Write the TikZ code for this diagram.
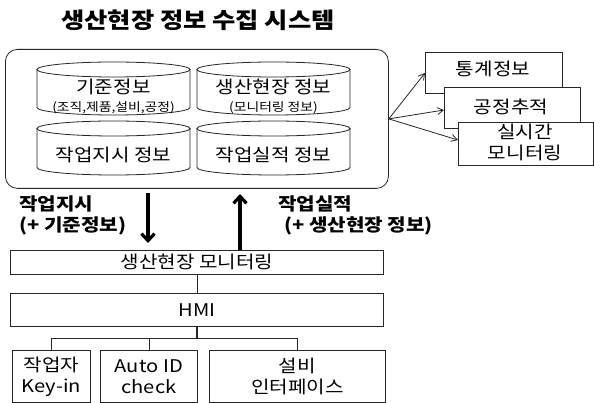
\documentclass[tikz,border=0pt]{standalone}
\usepackage{fontspec}
\setmainfont{Noto Sans CJK KR}[FakeStretch=1.15]
\usetikzlibrary{arrows.meta}
\newcommand\mycyl[4]{%
  \pgfmathsetmacro\crx{(#3-#1)/2}%
  \draw[ln,fill=white] (#1,#2+7.5) -- (#1,#4-7.5)
     arc[start angle=180,end angle=360,x radius=\crx pt,y radius=7.5pt] -- (#3,#2+7.5);
  \draw[ln] ({(#1+#3)/2},#2+7.5) ellipse[x radius=\crx pt,y radius=7.5pt];
}
\begin{document}
\begin{tikzpicture}[x=1pt,y=-1pt,
  ln/.style={draw=black!85,line width=0.8pt},
  body/.style={font=\fontsize{17.5}{21}\selectfont,inner sep=0pt},
  small/.style={font=\fontsize{12}{14}\selectfont,inner sep=0pt},
  lbl/.style={font=\fontsize{17.5}{21}\selectfont\bfseries,inner sep=0pt,align=left},
  boxr/.style={ln,fill=white,rectangle,inner sep=0pt,anchor=north west},
  thin/.style={ln,-{Straight Barb[length=6pt,width=7pt]}},
  big/.style={draw=black,line width=3.2pt,-{Straight Barb[length=7pt,width=13pt,line width=3.2pt]}}]
\useasboundingbox (0,0) rectangle (594,403);
\fill[white] (0,0) rectangle (594,403);
% title
\node[font=\fontsize{22}{26}\selectfont\bfseries,inner sep=0pt] (title) at (198,20) {생산현장 정보 수집 시스템};
% outer rounded box
\node[ln,rectangle,rounded corners=12pt,minimum width=383pt,minimum height=139pt,anchor=north west,inner sep=0pt] (outer) at (5,49) {};
% cylinders
\mycyl{37}{62}{190}{115}
\mycyl{197}{62}{350}{115}
\mycyl{37}{121}{190}{175}
\mycyl{197}{121}{350}{175}
\node[body] (c1) at (113.5,87) {기준정보};
\node[small] (c1s) at (113.5,108) {(조직,제품,설비,공정)};
\node[body] (c2) at (273.5,87) {생산현장 정보};
\node[small] (c2s) at (273.5,108) {(모니터링 정보)};
\node[body] (c3) at (113.5,155) {작업지시 정보};
\node[body] (c4) at (273.5,155) {작업실적 정보};
% right boxes
\node[boxr,minimum width=137pt,minimum height=41pt] (r1) at (425,52) {};
\node[body] (r1t) at (493,69) {통계정보};
\node[boxr,minimum width=136pt,minimum height=41pt] (r2) at (444,87) {};
\node[body] (r2t) at (511,107) {공정추적};
\node[boxr,minimum width=135pt,minimum height=43pt] (r3) at (458,122) {};
\node[body,align=center] (r3t) at (525,142) {실시간\\모니터링};
\coordinate (src) at (outer.east);
\draw[thin] (src) -- (r1.west |- 0,73);
\draw[thin] (src) -- (r2.west |- 0,110);
\draw[thin] (src) -- (r3.west |- 0,140);
% middle boxes
\node[ln,rectangle,minimum width=373pt,minimum height=24pt,anchor=north west,inner sep=0pt] (mon) at (10,250) {};
\node[body] (mont) at (mon.center) {생산현장 모니터링};
\node[ln,rectangle,minimum width=373pt,minimum height=33pt,anchor=north west,inner sep=0pt] (hmi) at (10,293) {};
\node[body] (hmit) at (hmi.center) {HMI};
% big arrows
\coordinate (dtop) at (148,193);
\draw[big] (dtop) -- (148,243);
\draw[big] (mon.north -| 240,0) -- (240,194);
\node[lbl,anchor=west] (l1) at (19,204) {작업지시};
\node[lbl,anchor=west] (l1b) at (19,226) {(+ 기준정보)};
\node[lbl,anchor=west] (l2) at (278,204) {작업실적};
\node[lbl,anchor=west] (l2b) at (284,226) {(+ 생산현장 정보)};
% bottom boxes
\node[ln,rectangle,minimum width=78pt,minimum height=52pt,anchor=north west,inner sep=0pt] (b1) at (12,350) {};
\node[body,align=center] (b1t) at (b1.center) {작업자\\Key-in};
\node[ln,rectangle,minimum width=97pt,minimum height=52pt,anchor=north west,inner sep=0pt] (b2) at (100,350) {};
\node[body,align=center] (b2t) at (b2.center) {Auto ID\\check};
\node[ln,rectangle,minimum width=176pt,minimum height=52pt,anchor=north west,inner sep=0pt] (b3) at (209,350) {};
\node[body,align=center] (b3t) at (b3.center) {설비\\인터페이스};
% tree connectors
\draw[ln] (mon.south -| 197,0) -- (hmi.north -| 197,0);
\coordinate (hb) at (197,338);
\draw[ln,line width=1.4pt] (hmi.south -| 197,0) -- (hb);
\draw[ln] (hb) -| (b1.north);
\draw[ln] (hb) -| (b2.north);
\draw[ln] (hb) -| (b3.north);
\end{tikzpicture}
\end{document}
